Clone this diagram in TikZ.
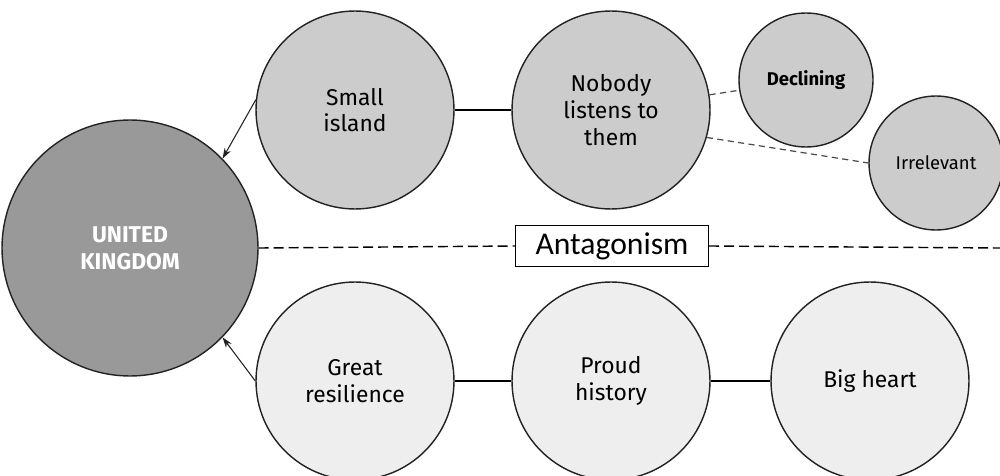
\documentclass[tikz,border=0pt]{standalone}
\usepackage{fontspec}
\setmainfont{Fira Sans}
\newfontfamily\labelfont{Carlito}
\usetikzlibrary{arrows.meta}

\definecolor{ukgray}{HTML}{999999}
\definecolor{topgray}{HTML}{CCCCCC}
\definecolor{lowgray}{HTML}{EEEEEE}
\definecolor{inkgray}{HTML}{222222}

\begin{document}
\begin{tikzpicture}[x=0.02cm, y=-0.02cm,
    bubble/.style={circle, draw=inkgray, line width=0.8pt, inner sep=0pt, align=center,
      text=black, font=\fontsize{13}{15.2}\selectfont},
    bigbubble/.style={bubble, minimum size=3.96cm},
    smallbubble/.style={bubble, minimum size=2.68cm, font=\fontsize{10.5}{12}\selectfont},
    link/.style={draw=black, line width=0.7pt},
    hint/.style={draw=black!70, line width=0.7pt, dash pattern=on 3.5pt off 2.5pt},
    divide/.style={draw=black, line width=0.8pt, dash pattern=on 5.7pt off 2.8pt},
    pointer/.style={draw=inkgray, line width=0.6pt, -{Stealth[length=6pt, width=4pt]}},
  ]
  \useasboundingbox (0,0) rectangle (1000,476);

  \node[bubble, minimum size=5.12cm, fill=ukgray, text=white, font=\fontsize{13}{15.5}\selectfont\bfseries] (uk) at (130, 248) {UNITED\\KINGDOM};

  \node[bigbubble, fill=topgray] (island) at (355, 110) {Small\\island};
  \node[bigbubble, fill=topgray] (nobody) at (611, 110) {Nobody\\listens to\\them};
  \node[smallbubble, fill=topgray, font=\fontsize{10.5}{12}\selectfont\bfseries] (declining) at (806, 80) {Declining};
  \node[smallbubble, fill=topgray] (irrelevant) at (936, 163) {Irrelevant};

  \node[bigbubble, fill=lowgray] (resilience) at (355, 381) {Great\\resilience};
  \node[bigbubble, fill=lowgray] (history) at (611, 381) {Proud\\history};
  \node[bigbubble, fill=lowgray] (heart) at (870, 381) {Big heart};

  \node[draw=black, line width=0.8pt, fill=white, minimum width=3.86cm, minimum height=0.82cm, inner sep=0pt,
    font=\labelfont\fontsize{18}{20}\selectfont, text=black] (antag) at (612, 246) {Antagonism};
  \coordinate (edge) at (1000, 248);

  % links between bubbles
  \draw[link] (island) -- (nobody);
  \draw[hint] (nobody) -- (declining);
  \draw[hint] (nobody.-16) -- (irrelevant.west);
  \draw[link] (resilience) -- (history);
  \draw[link] (history) -- (heart);

  % dividing line
  \draw[divide] (uk.east) -- (antag.west);
  \draw[divide] (antag.east) -- (edge);

  % arrows into the UK
  \draw[pointer] (island.174) -- (uk.44);
  \draw[pointer] (resilience.west) -- (uk.-44);
\end{tikzpicture}
\end{document}
